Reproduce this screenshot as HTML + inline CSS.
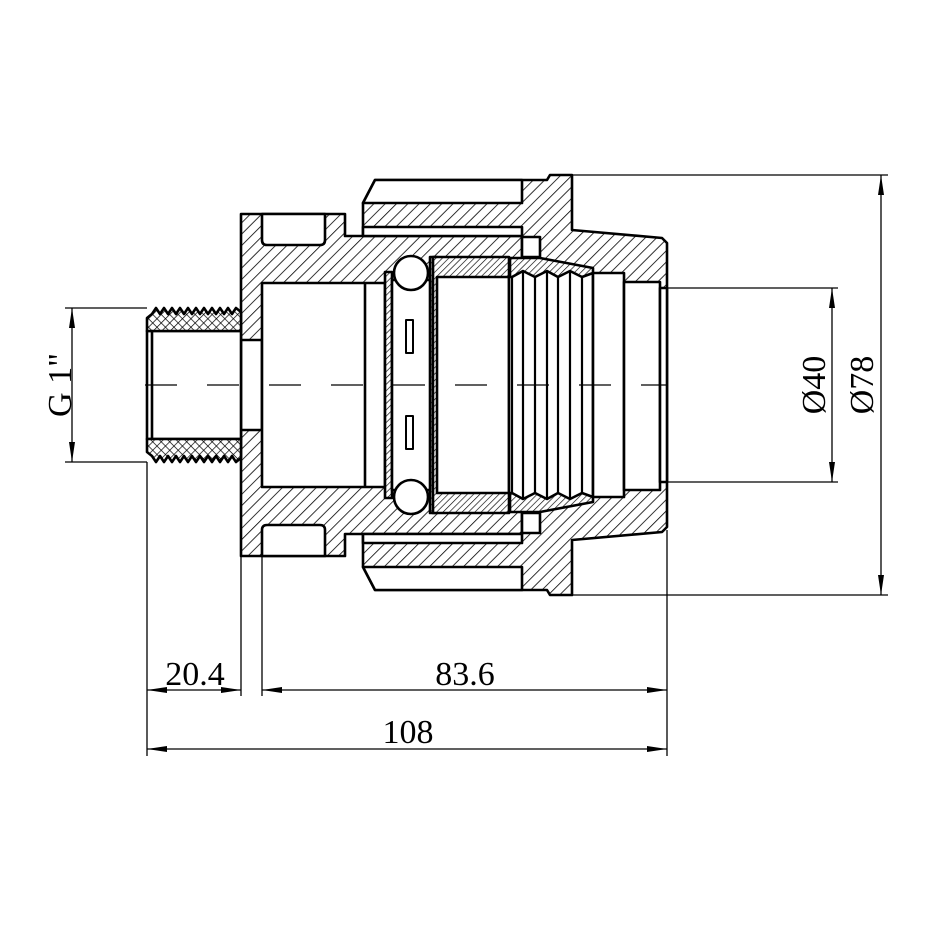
<!DOCTYPE html>
<html><head><meta charset="utf-8"><style>html,body{margin:0;padding:0;background:#fff}svg{display:block}</style></head>
<body>
<svg width="930" height="930" viewBox="0 0 930 930" xmlns="http://www.w3.org/2000/svg">
<defs>
<pattern id="h" patternUnits="userSpaceOnUse" width="8" height="8" patternTransform="rotate(45)">
<rect width="8" height="8" fill="#fff"/><line x1="0" y1="0" x2="0" y2="8" stroke="#000" stroke-width="1.6"/></pattern>
<pattern id="d" patternUnits="userSpaceOnUse" width="4.5" height="4.5" patternTransform="rotate(45)">
<rect width="5" height="5" fill="#fff"/><line x1="0" y1="0" x2="0" y2="5" stroke="#000" stroke-width="1.3"/></pattern>
<pattern id="x" patternUnits="userSpaceOnUse" width="6" height="6" patternTransform="rotate(45)">
<rect width="6" height="6" fill="#fff"/><line x1="0" y1="0" x2="0" y2="6" stroke="#000" stroke-width="1.4"/><line x1="0" y1="0" x2="6" y2="0" stroke="#000" stroke-width="1.4"/></pattern>
<marker id="a" viewBox="0 0 20 8" refX="20" refY="4" markerWidth="20" markerHeight="8" markerUnits="userSpaceOnUse" orient="auto-start-reverse"><path d="M0,1 L20,4 L0,7 Z" fill="#000"/></marker>
</defs>

<g stroke="#000" stroke-width="1.3" fill="none">
<line x1="65" y1="308" x2="147" y2="308"/><line x1="65" y1="462" x2="147" y2="462"/>
<line x1="667" y1="288" x2="838" y2="288"/><line x1="667" y1="482" x2="838" y2="482"/>
<line x1="572" y1="175" x2="888" y2="175"/><line x1="572" y1="595" x2="888" y2="595"/>
<line x1="147" y1="462" x2="147" y2="756"/><line x1="241" y1="556" x2="241" y2="696"/>
<line x1="262" y1="556" x2="262" y2="696"/><line x1="667" y1="530" x2="667" y2="756"/>
<line x1="72" y1="308" x2="72" y2="462" marker-start="url(#a)" marker-end="url(#a)"/>
<line x1="832" y1="288" x2="832" y2="482" marker-start="url(#a)" marker-end="url(#a)"/>
<line x1="881" y1="175" x2="881" y2="595" marker-start="url(#a)" marker-end="url(#a)"/>
<line x1="147" y1="690" x2="241" y2="690" marker-start="url(#a)" marker-end="url(#a)"/>
<line x1="262" y1="690" x2="667" y2="690" marker-start="url(#a)" marker-end="url(#a)"/>
<line x1="147" y1="749" x2="667" y2="749" marker-start="url(#a)" marker-end="url(#a)"/>
</g>

<g stroke="#000" stroke-width="2.6" stroke-linejoin="round">
<path fill="url(#h)" d="M375,180 L547,180 L550,175 L572,175 L572,230 L662,238 L667,243 L667,527 L662,532 L572,540 L572,595 L550,595 L547,590 L375,590 L363,567 L363,203 Z"/>
<path fill="#fff" d="M375,180 L522,180 L522,203 L363,203 Z"/>
<path fill="#fff" d="M375,590 L522,590 L522,567 L363,567 Z"/>
<path fill="url(#h)" d="M241,214 L345,214 L345,236 L522,236 L522,534 L345,534 L345,556 L241,556 Z"/>
<rect x="363" y="227" width="159" height="9" fill="#fff"/>
<rect x="363" y="534" width="159" height="9" fill="#fff"/>
<path fill="#fff" d="M262,214 L325,214 L325,240 Q325,245 320,245 L267,245 Q262,245 262,240 Z"/>
<path fill="#fff" d="M262,556 L325,556 L325,530 Q325,525 320,525 L267,525 Q262,525 262,530 Z"/>
<rect x="241" y="340" width="21" height="90" fill="#fff"/>
<rect x="262" y="283" width="123" height="204" fill="#fff"/>
<line x1="365" y1="283" x2="365" y2="487"/>
<rect x="522" y="237" width="18" height="20" fill="#fff"/>
<rect x="522" y="513" width="18" height="20" fill="#fff"/>
<path fill="url(#d)" d="M510,258 L540,258 L593,268 L593,502 L540,512 L510,512 Z"/>
<rect x="385" y="272" width="7" height="226" fill="url(#d)"/>
<rect x="430" y="257" width="7" height="256" fill="url(#d)"/>
<rect x="392" y="280" width="38" height="210" fill="#fff"/>
<circle cx="411" cy="273" r="17" fill="#fff"/>
<circle cx="411" cy="497" r="17" fill="#fff"/>
<rect x="406" y="320" width="7" height="33" fill="#fff" stroke-width="2"/>
<rect x="406" y="416" width="7" height="33" fill="#fff" stroke-width="2"/>
<rect x="433" y="257" width="76" height="256" fill="url(#d)"/>
<rect x="437" y="277" width="72" height="216" fill="#fff"/>
<path fill="#fff" d="M509,277 L512,277 L523,271 L535,277 L547,271 L558,277 L570,271 L582,277 L593,273 L593,497 L582,493 L570,499 L558,493 L547,499 L535,493 L523,499 L512,493 L509,493 Z"/>
<g stroke-width="2.2">
<line x1="512" y1="277" x2="512" y2="493"/><line x1="523" y1="271" x2="523" y2="499"/>
<line x1="535" y1="277" x2="535" y2="493"/><line x1="547" y1="271" x2="547" y2="499"/>
<line x1="558" y1="277" x2="558" y2="493"/><line x1="570" y1="271" x2="570" y2="499"/>
<line x1="582" y1="277" x2="582" y2="493"/>
</g>
<rect x="593" y="273" width="31" height="224" fill="#fff"/>
<rect x="624" y="282" width="36" height="208" fill="#fff"/>
<rect x="660" y="288" width="7" height="194" fill="#fff"/>
<rect x="147" y="331" width="94" height="108" fill="#fff"/>
<line x1="152" y1="331" x2="152" y2="439"/>
<path fill="url(#x)" d="M147,331 L147,318 L152,314 L156,308 L160,314 L164,308 L168,314 L172,308 L176,314 L180,308 L184,314 L188,308 L192,314 L196,308 L200,314 L204,308 L208,314 L212,308 L216,314 L220,308 L224,314 L228,308 L232,314 L236,308 L241,312 L241,331 Z"/>
<path fill="url(#x)" d="M147,439 L147,452 L152,456 L156,462 L160,456 L164,462 L168,456 L172,462 L176,456 L180,462 L184,456 L188,462 L192,456 L196,462 L200,456 L204,462 L208,456 L212,462 L216,456 L220,462 L224,456 L228,462 L232,456 L236,462 L241,458 L241,439 Z"/>
</g>

<line x1="145" y1="385" x2="667" y2="385" stroke="#000" stroke-width="1.2" stroke-dasharray="32,30"/>

<g font-family="Liberation Serif, serif" font-size="34" fill="#000" text-anchor="middle">
<text x="195" y="685">20.4</text>
<text x="465" y="685">83.6</text>
<text x="408" y="743">108</text>
<text transform="translate(71,385) rotate(-90)">G 1"</text>
<text transform="translate(825,385) rotate(-90)">Ø40</text>
<text transform="translate(873,385) rotate(-90)">Ø78</text>
</g>
</svg>
</body></html>
